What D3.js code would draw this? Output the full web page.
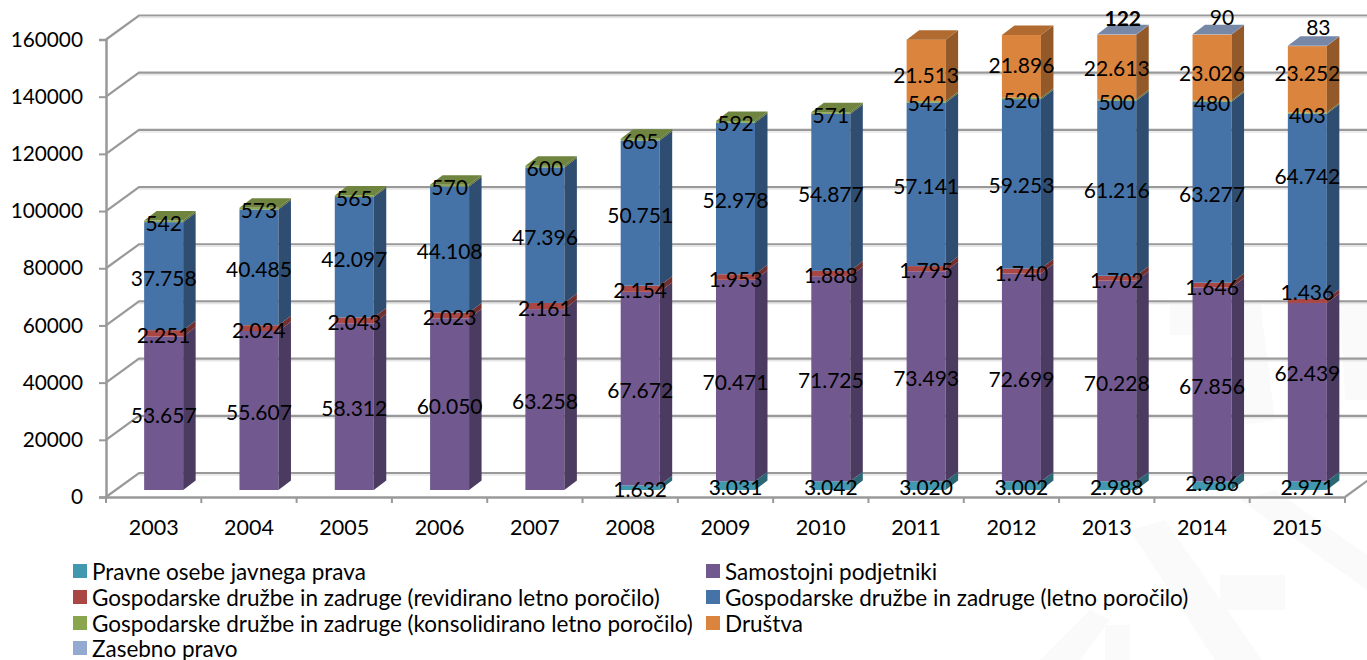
<!DOCTYPE html>
<html>
<head>
<meta charset="utf-8">
<script src="https://cdn.jsdelivr.net/npm/d3@7"></script>
<style>
  html, body { margin: 0; padding: 0; background: #fff; }
  text { font-family: Lato, "Open Sans", sans-serif; fill: #000; }
  .tick text { font-size: 21.5px; }
  .y-axis .tick text { font-size: 20.8px; }
  .value { font-size: 21px; text-anchor: middle; dominant-baseline: central; }
  .legend text { font-size: 22.5px; dominant-baseline: central; }
</style>
</head>
<body>
<div id="chart"></div>
<script>
// Data
var years = ["2003", "2004", "2005", "2006", "2007", "2008", "2009", "2010", "2011", "2012", "2013", "2014", "2015"];
var javnoPravo = [null, null, null, null, null, 1632, 3031, 3042, 3020, 3002, 2988, 2986, 2971];
var samostojni = [53657, 55607, 58312, 60050, 63258, 67672, 70471, 71725, 73493, 72699, 70228, 67856, 62439];
var revidirano = [2251, 2024, 2043, 2023, 2161, 2154, 1953, 1888, 1795, 1740, 1702, 1646, 1436];
var letno = [37758, 40485, 42097, 44108, 47396, 50751, 52978, 54877, 57141, 59253, 61216, 63277, 64742];
var konsolidirano = [542, 573, 565, 570, 600, 605, 592, 571, 542, 520, 500, 480, 403];
var drustva = [null, null, null, null, null, null, null, null, 21513, 21896, 22613, 23026, 23252];
var zasebno = [null, null, null, null, null, null, null, null, null, null, 122, 90, 83];
var seriesNames = [
  "Pravne osebe javnega prava",
  "Samostojni podjetniki",
  "Gospodarske družbe in zadruge (revidirano letno poročilo)",
  "Gospodarske družbe in zadruge (letno poročilo)",
  "Gospodarske družbe in zadruge (konsolidirano letno poročilo)",
  "Društva",
  "Zasebno pravo"
];
var seriesValues = [javnoPravo, samostojni, revidirano, letno, konsolidirano, drustva, zasebno];
var seriesColors = ["#4198AF", "#71588F", "#AA4643", "#4572A7", "#89A54E", "#DB843D", "#93A9CF"];
var yTicks = [0, 20000, 40000, 60000, 80000, 100000, 120000, 140000, 160000];

var svgWidth = 1367;
var svgHeight = 660;
var plot = { left: 106, right: 1345, top: 39.5, bottom: 497 };

// 3D offsets: wall depth, where the bar sits on the floor, bar depth
var wall = { dx: 33, dy: -24 };
var barShift = { dx: 10, dy: -7 };
var barDepth = { dx: 12.5, dy: -9.5 };
var barWidth = 39;
var gridColor = "#999999";

// labels that were dragged by hand in the original, key is series + year
var labelNudge = {
  "6|2013": [6, -18], "6|2014": [10, -19], "6|2015": [11, -20],
  "3|2015": [0, -32], "1|2015": [0, -21], "2|2015": [0, -10], "5|2015": [0, -8],
  "5|2014": [0, 4], "5|2011": [0, 3], "5|2012": [0, -3], "0|2014": [0, -4]
};

var svg = d3.select("#chart")
  .append("svg")
  .attr("width", svgWidth)
  .attr("height", svgHeight)
  .style("display", "block");

// faint watermark behind the chart
var watermark = [
  "M1130,530L1165,520L1262,660L1215,660Z",
  "M1220,575L1285,575L1285,610L1220,610Z",
  "M1240,500L1275,490L1367,555L1367,590Z",
  "M1040,660L1090,610L1110,620L1080,660Z",
  "M1105,625L1130,625L1130,660L1105,660Z",
  "M1170,300L1260,300L1275,420L1245,425L1235,335L1170,335Z",
  "M1340,300L1367,300L1367,400L1345,400Z"
];
svg.append("g").selectAll("path")
  .data(watermark)
  .enter()
  .append("path")
  .attr("d", function (d) { return d; })
  .attr("fill", "#fafafa");

var xScale = d3.scaleBand().domain(years).range([plot.left, plot.right]);
var yScale = d3.scaleLinear().domain([0, 160000]).range([plot.bottom, plot.top]);

// Walls and floor
var walls = svg.append("g")
  .attr("fill", "none")
  .attr("stroke", gridColor)
  .attr("stroke-width", 2.2);

yTicks.forEach(function (t) {
  var y = yScale(t);
  var backY = y + wall.dy;
  // soft shadow under the back gridline
  svg.append("line")
    .attr("x1", plot.left + wall.dx).attr("x2", plot.right + wall.dx)
    .attr("y1", backY + 2).attr("y2", backY + 2)
    .attr("stroke", "#e6e6e6").attr("stroke-width", 1.5);
  walls.append("path")
    .attr("d", `M${plot.left},${y}L${plot.left + wall.dx},${backY}L${plot.right + wall.dx},${backY}`);
});
walls.append("line")
  .attr("x1", plot.right).attr("y1", plot.bottom)
  .attr("x2", plot.right + wall.dx).attr("y2", plot.bottom + wall.dy);

// Bars
var fmt = d3.formatLocale({ decimal: ",", thousands: ".", grouping: [3], currency: ["", ""] }).format(",d");
var bars = svg.append("g");
var labels = [];

function poly(pts) {
  return "M" + pts.map(function (p) { return p.join(","); }).join("L") + "Z";
}

years.forEach(function (year, i) {
  var x0 = xScale(year) + xScale.bandwidth() / 2 - barWidth / 2 + barShift.dx;
  var x1 = x0 + barWidth;
  var sum = 0;
  var lastIndex = -1;
  seriesValues.forEach(function (vals, s) { if (vals[i] != null) lastIndex = s; });

  seriesValues.forEach(function (vals, s) {
    var v = vals[i];
    if (v == null) return;
    var yBottom = yScale(sum) + barShift.dy;
    var yTop = yScale(sum + v) + barShift.dy;
    var color = d3.color(seriesColors[s]);

    bars.append("rect")
      .attr("x", x0).attr("y", yTop)
      .attr("width", barWidth).attr("height", yBottom - yTop)
      .attr("fill", color);
    bars.append("path")
      .attr("d", poly([[x1, yBottom], [x1 + barDepth.dx, yBottom + barDepth.dy], [x1 + barDepth.dx, yTop + barDepth.dy], [x1, yTop]]))
      .attr("fill", color.darker(1.1));
    if (s === lastIndex) {
      bars.append("path")
        .attr("d", poly([[x0, yTop], [x0 + barDepth.dx, yTop + barDepth.dy], [x1 + barDepth.dx, yTop + barDepth.dy], [x1, yTop]]))
        .attr("fill", color.darker(0.6));
    }
    var nudge = labelNudge[s + "|" + year] || [0, 0];
    labels.push({ x: (x0 + x1) / 2 + nudge[0], y: (yTop + yBottom) / 2 + nudge[1] + 1, s: s, v: v });
    sum += v;
  });
});

// Axes
var yAxis = d3.axisLeft(yScale).tickValues(yTicks).tickSize(7).tickPadding(16).tickFormat(d3.format("d"));
var gy = svg.append("g")
  .attr("class", "y-axis")
  .attr("transform", `translate(${plot.left},0)`)
  .call(yAxis);
var xAxis = d3.axisBottom(xScale).tickSize(0).tickPadding(23);
var gx = svg.append("g")
  .attr("transform", `translate(0,${plot.bottom})`)
  .call(xAxis);
[gy, gx].forEach(function (g) {
  g.selectAll("path.domain").attr("stroke", gridColor).attr("stroke-width", 2.5);
  g.selectAll(".tick line").attr("stroke", gridColor).attr("stroke-width", 2);
});
d3.range(years.length + 1).forEach(function (i) {
  gx.append("line")
    .attr("x1", plot.left + i * xScale.bandwidth()).attr("x2", plot.left + i * xScale.bandwidth())
    .attr("y1", 0).attr("y2", 6)
    .attr("stroke", gridColor).attr("stroke-width", 2);
});

// Value labels
svg.append("g").selectAll("text")
  .data(labels)
  .enter()
  .append("text")
  .attr("class", "value")
  .attr("x", function (d) { return d.x; })
  .attr("y", function (d) { return d.y; })
  .style("font-weight", function (d) { return d.s === 6 && d.v === 122 ? "bold" : null; })
  .text(function (d) { return fmt(d.v); });

// Legend
var legendRows = [571, 597, 623, 648];
var legendCols = [73, 706];
var legend = svg.append("g").attr("class", "legend");
seriesNames.forEach(function (name, s) {
  var lx = legendCols[s % 2];
  var ly = legendRows[Math.floor(s / 2)];
  legend.append("rect")
    .attr("x", lx).attr("y", ly - 7)
    .attr("width", 14).attr("height", 14)
    .attr("fill", seriesColors[s]);
  legend.append("text")
    .attr("x", lx + 19).attr("y", ly)
    .text(name);
});
</script>
</body>
</html>
